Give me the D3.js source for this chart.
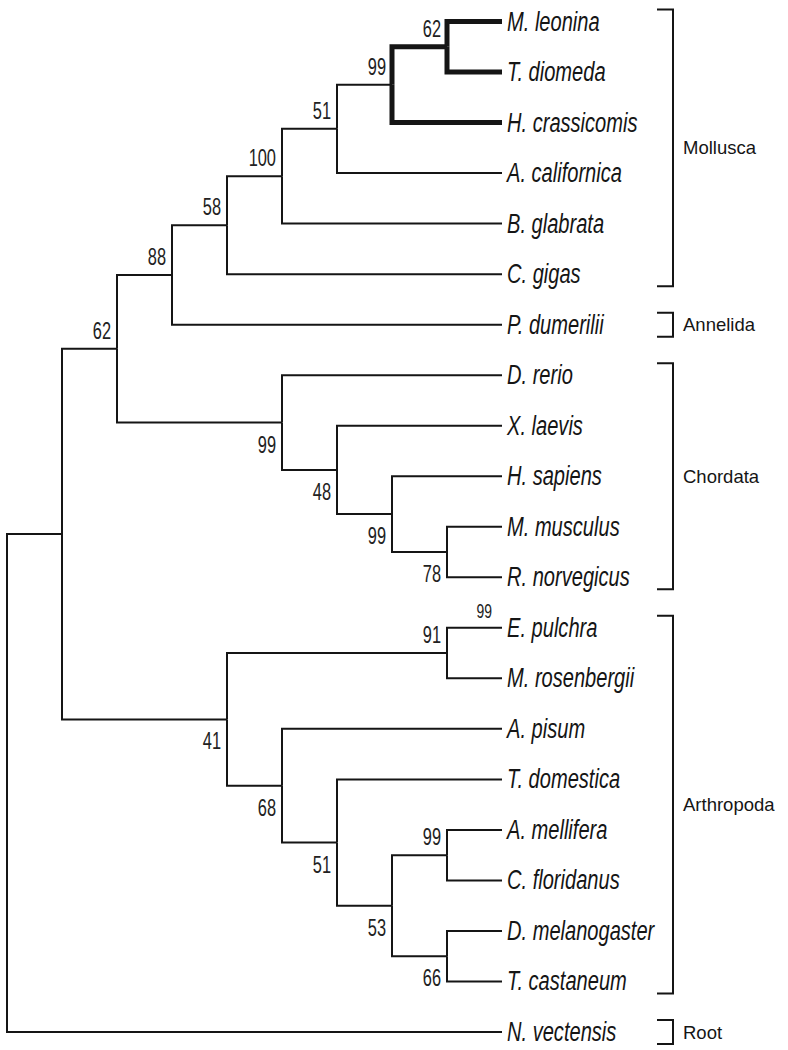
<!DOCTYPE html>
<html><head><meta charset="utf-8">
<script src="https://cdn.jsdelivr.net/npm/d3@7"></script>
<style>body{margin:0;background:#fff}</style>
</head><body><svg id="c" width="788" height="1050"></svg>
<script>
// ---- data ----
const leafNames = ["M. leonina","T. diomeda","H. crassicomis","A. californica","B. glabrata","C. gigas",
  "P. dumerilii","D. rerio","X. laevis","H. sapiens","M. musculus","R. norvegicus",
  "E. pulchra","M. rosenbergii","A. pisum","T. domestica","A. mellifera","C. floridanus",
  "D. melanogaster","T. castaneum","N. vectensis"];
const leafParents = ["H","H","G","F","E","D","C","I","J","K","L","L","N","N","O","P","R","R","S","S","root"];
const leafSupport = [null,null,null,null,null,null,null,null,null,null,null,null,"99",null,null,null,null,null,null,null,null];

const internalIds     = ["root","A","B","C","D","E","F","G","H","I","J","K","L","M","N","O","P","Q","R","S"];
const internalParents = ["","root","A","B","C","D","E","F","G","B","I","J","K","A","M","M","O","P","Q","Q"];
const internalSupport = [null,null,"62","88","58","100","51","99","62","99","48","99","78","41","91","68","51","53","99","66"];
const supportSide     = ["","","above","above","above","above","above","above","above","below","below","below","below","below","above","below","below","below","above","below"];
const thickNodes = ["G","H"];

const clades = ["Mollusca","Annelida","Chordata","Arthropoda","Root"];
const cladeFirst = ["M. leonina","P. dumerilii","D. rerio","E. pulchra","N. vectensis"];
const cladeLast  = ["C. gigas","P. dumerilii","R. norvegicus","T. castaneum","N. vectensis"];

// ---- build tree ----
const rows = internalIds.map((id,i)=>({id, parentId: internalParents[i] || null, support: internalSupport[i], side: supportSide[i]}))
  .concat(leafNames.map((id,i)=>({id, parentId: leafParents[i], support: leafSupport[i], side: "leaf"})));
const root = d3.stratify().id(d=>d.id).parentId(d=>d.parentId)(rows);
const minIdx = n => d3.min(n.leaves(), l => leafNames.indexOf(l.id));
root.sort((a,b)=>minIdx(a)-minIdx(b));

const firstLeafY = 21.5, lastLeafY = 1032, left0 = 7, right0 = 502;
const step = (lastLeafY - firstLeafY) / (leafNames.length - 1);
d3.cluster().size([step * leafNames.length, right0 - left0]).separation(()=>1)(root);
const X = n => n.y + left0, Y = n => n.x + firstLeafY - step / 2;

const svg = d3.select("#c");
svg.append("rect").attr("width",788).attr("height",1050).attr("fill","#fff");

// font detection for narrow face
const probeA = svg.append("text").style("font-family","'Liberation Sans Narrow'").style("font-size","20px").text("Mmmmmmmm");
const probeB = svg.append("text").style("font-family","'Liberation Sans'").style("font-size","20px").text("Mmmmmmmm");
const ratio = probeA.node().getComputedTextLength()/probeB.node().getComputedTextLength();
probeA.remove(); probeB.remove();
const sx = ratio < 0.92 ? 1 : 0.82;
const sy = 1.15;
const fam = "'Liberation Sans Narrow','Arial Narrow','Liberation Sans',Arial,sans-serif";
const ink = "#151515";

// ---- branches ----
svg.append("g").selectAll("path").data(root.links()).join("path")
  .attr("d", l => `M${X(l.source)},${Y(l.source)}V${Y(l.target)}H${X(l.target)}`)
  .attr("fill","none").attr("stroke", ink)
  .attr("stroke-width", l => thickNodes.includes(l.source.data.id) ? 5 : 2)
  .attr("stroke-linejoin","miter").attr("stroke-linecap","butt");

// ---- leaf labels ----
svg.append("g").selectAll("text").data(root.leaves()).join("text")
  .attr("transform", d => `translate(${X(d)+5},${Y(d)+9}) scale(${sx},${sy})`)
  .style("font-family", fam).style("font-style","italic").style("font-size","24.5px")
  .attr("fill", ink).text(d => d.id);

// ---- bootstrap values ----
const sup = root.descendants().filter(d => d.data.support);
svg.append("g").selectAll("text").data(sup).join("text")
  .attr("transform", d => {
    let x, y;
    if (d.data.side === "leaf") { x = X(d) - 10; y = Y(d) - 10; }
    else if (d.data.side === "above") { x = X(d) - 6; y = Y(d) - 10; }
    else { x = X(d) - 6; y = Y(d) + 30; }
    return `translate(${x},${y}) scale(${sx},${sy})`;
  })
  .attr("text-anchor","end")
  .style("font-family", fam).style("font-size", d => d.data.side === "leaf" ? "17px" : "20px")
  .attr("fill", "#222").text(d => d.data.support);

// ---- clade brackets ----
const leafY = id => Y(root.leaves().find(l => l.id === id));
const bx = 673, bt = 657;
const cg = svg.append("g");
clades.forEach((c,i) => {
  const y0 = leafY(cladeFirst[i]) - 12, y1 = leafY(cladeLast[i]) + 12;
  cg.append("path").attr("d", `M${bt},${y0}H${bx}V${y1}H${bt}`)
    .attr("fill","none").attr("stroke", ink).attr("stroke-width", 2);
  cg.append("text").attr("x", 683).attr("y", (y0+y1)/2)
    .attr("dominant-baseline","central")
    .style("font-family","'Liberation Sans',Arial,sans-serif").style("font-size","18.5px")
    .attr("fill", ink).text(c);
});
</script></body></html>
